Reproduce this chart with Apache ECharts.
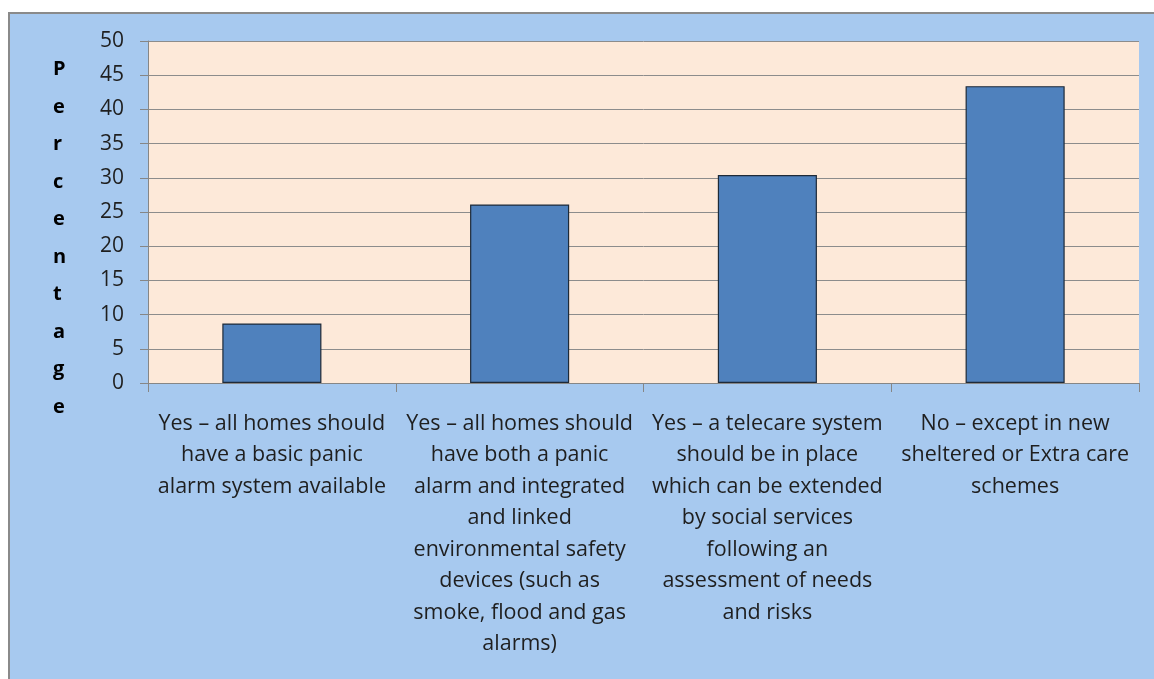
<!DOCTYPE html>
<html>
<head>
<meta charset="utf-8">
<script src="https://cdn.jsdelivr.net/npm/echarts@6/dist/echarts.min.js"></script>
<style>
  html, body { margin: 0; padding: 0; background: #fff; }
  #chart { width: 1154px; height: 679px; }
</style>
</head>
<body>
<div id="chart"></div>
<script>
// answer categories, wrapped as in the original
var categories = [
  'Yes \u2013 all homes should\nhave a basic panic\nalarm system available',
  'Yes \u2013 all homes should\nhave both a panic\nalarm and integrated\nand linked\nenvironmental safety\ndevices (such as\nsmoke, flood and gas\nalarms)',
  'Yes \u2013 a telecare system\nshould be in place\nwhich can be extended\nby social services\nfollowing an\nassessment of needs\nand risks',
  'No \u2013 except in new\nsheltered or Extra care\nschemes'
]
var percentages = [8.7, 26.1, 30.4, 43.4]
var yTicks = { min: 0, max: 50, interval: 5 }
var yTitle = 'Percentage'

var font = '"Open Sans", "Liberation Sans", sans-serif'
var chart = echarts.init(document.getElementById('chart'))

var option = {
  backgroundColor: '#ffffff',
  animation: false,
  graphic: [
    {
      type: 'rect',
      z: -10,
      shape: { x: 9, y: 13, width: 1160, height: 680 },
      style: { fill: '#a7c9ef', stroke: '#8a8a8a', lineWidth: 2 }
    },
    {
      type: 'text',
      left: 53,
      top: 51,
      style: {
        text: yTitle.split('').join('\n'),
        font: 'bold 20px ' + font,
        lineHeight: 37.5,
        fill: '#000',
        align: 'center'
      }
    }
  ],
  grid: {
    left: 148,
    right: 15,
    top: 41,
    bottom: 296,
    show: true,
    backgroundColor: '#fde9d9',
    borderWidth: 0
  },
  xAxis: {
    type: 'category',
    data: categories,
    axisLine: { lineStyle: { color: '#868686', width: 1 } },
    axisTick: { show: true, length: 9, lineStyle: { color: '#868686' } },
    axisLabel: {
      interval: 0,
      margin: 25,
      fontFamily: font,
      fontSize: 21.5,
      lineHeight: 31.5,
      color: '#1f1f1f',
      align: 'center',
      verticalAlign: 'top'
    }
  },
  yAxis: {
    type: 'value',
    min: yTicks.min,
    max: yTicks.max,
    interval: yTicks.interval,
    axisLine: { show: true, lineStyle: { color: '#868686' } },
    axisTick: { show: true, length: 8, lineStyle: { color: '#868686' } },
    splitLine: { lineStyle: { color: '#8c8c8c', width: 1 } },
    axisLabel: {
      margin: 24,
      fontFamily: font,
      fontSize: 21,
      color: '#1f1f1f'
    }
  },
  series: [
    {
      type: 'bar',
      data: percentages,
      barWidth: '40%',
      itemStyle: {
        color: '#4f81bd',
        borderColor: '#1e2a38',
        borderWidth: 1.2
      }
    }
  ]
}

chart.setOption(option)
</script>
</body>
</html>
